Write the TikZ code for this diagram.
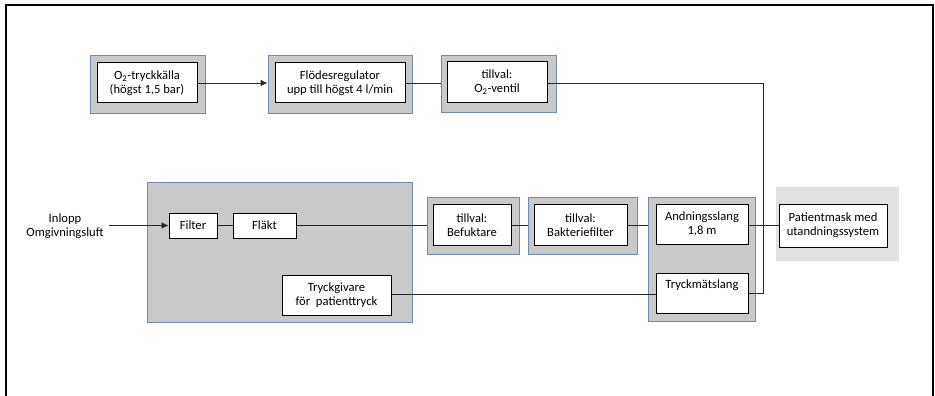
\documentclass[tikz,border=0pt]{standalone}
\usepackage{fontspec}
\setmainfont{Carlito}
\usetikzlibrary{arrows.meta}

\definecolor{grafyll}{RGB}{201,201,201}
\definecolor{blakant}{RGB}{111,137,176}
\definecolor{ljusgra}{RGB}{226,226,226}

\begin{document}
\begin{tikzpicture}[x=1pt,y=-1pt,
    ram/.style={fill=grafyll,draw=blakant,line width=0.8pt,inner sep=0pt},
    ruta/.style={fill=white,draw=black,line width=1pt,inner sep=0pt,align=center,
      font=\fontsize{12.6}{13.7}\selectfont},
    ledning/.style={draw=black!85,line width=0.8pt},
    pil/.style={-{Latex[length=7pt,width=6.5pt]}}]
      \useasboundingbox (0,0) rectangle (935,396);
      \draw[line width=2pt] (6,396)--(6,5)--(933,5)--(933,396);
      % grey frames
      \node[ram,minimum width=115,minimum height=58] (o2ram) at (147.5,84) {};
      \node[ram,minimum width=144,minimum height=58] (flodeRam) at (340,84) {};
      \node[ram,minimum width=115,minimum height=57] (ventilRam) at (498.5,83.5) {};
      \node[ram,minimum width=265,minimum height=140] (apparat) at (279.5,252) {};
      \node[ram,minimum width=92,minimum height=57] (befuktRam) at (473,225.5) {};
      \node[ram,minimum width=109,minimum height=57] (bakterieRam) at (582.5,225.5) {};
      \node[ram,minimum width=107,minimum height=124] (slangRam) at (701.5,259) {};
      \node[fill=ljusgra,inner sep=0pt,minimum width=123,minimum height=74] (maskRam) at (837.5,224) {};
      % boxes
      \node[ruta,minimum width=100,minimum height=40] (o2kalla) at (147,83) {O\textsubscript{2}-tryckkälla\\(högst 1,5 bar)};
      \node[ruta,minimum width=130,minimum height=40] (flode) at (340,83) {Flödesregulator\\upp till högst 4 l/min};
      \node[ruta,minimum width=100,minimum height=41] (ventil) at (497,82) {tillval:\\O\textsubscript{2}-ventil};
      \node[ruta,minimum width=48,minimum height=25] (filter) at (193,225.5) {Filter};
      \node[ruta,minimum width=63,minimum height=25] (flakt) at (264.5,225.5) {Fläkt};
      \node[ruta,minimum width=109,minimum height=40] (givare) at (336.5,295) {Tryckgivare\\för\ \ patienttryck};
      \node[ruta,minimum width=78,minimum height=41] (befukt) at (472,225) {tillval:\\Befuktare};
      \node[ruta,minimum width=93,minimum height=41] (bakterie) at (580.5,225) {tillval:\\Bakteriefilter};
      \node[ruta,minimum width=92,minimum height=40] (andning) at (702,224) {Andningsslang\\1,8 m};
      \node[ruta,minimum width=92,minimum height=40] (tryckslang) at (702,293) {Tryckmätslang\\\strut};
      \node[ruta,minimum width=108,minimum height=43] (mask) at (833,225.5) {Patientmask med\\utandningssystem};
      \node[align=center,inner sep=0pt,font=\fontsize{12.6}{13.7}\selectfont] (inlopp) at (65,226) {Inlopp\\Omgivningsluft};
      \coordinate (knut) at (763,83);
      % oxygen line
      \draw[ledning,pil] (o2kalla.east) -- (flodeRam.west |- o2kalla.east);
      \draw[ledning] (flode.east) -- (ventilRam.west |- flode.east);
      \draw[ledning] (ventil.east |- knut) -- (knut) |- (tryckslang.east);
      % air line
      \draw[ledning,pil] (inlopp.east |- filter.west) ++(5,0) -- (filter.west);
      \draw[ledning] (filter) -- (flakt);
      \draw[ledning] (flakt.east) -- (befuktRam.west |- flakt.east);
      \draw[ledning] (befukt.east |- flakt.east) -- (bakterieRam.west |- flakt.east);
      \draw[ledning] (bakterie.east |- flakt.east) -- (slangRam.west |- flakt.east);
      \draw[ledning] (andning.east |- flakt.east) -- (mask.west |- flakt.east);
      \draw[ledning] (givare.east |- 0,294) -- (tryckslang.west |- 0,294);
    \end{tikzpicture}
\end{document}
